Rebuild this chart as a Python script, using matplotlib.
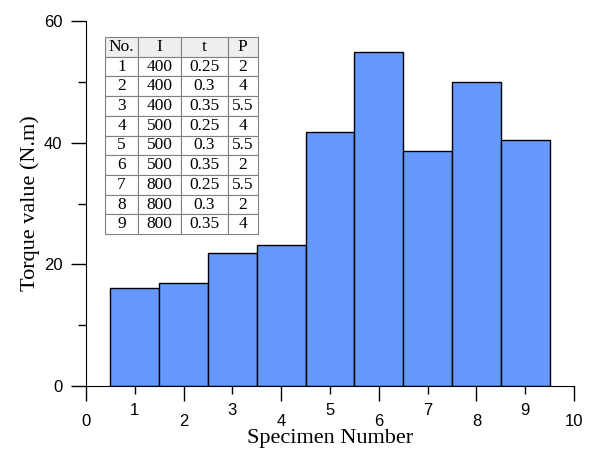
import matplotlib
matplotlib.use('Agg')
import matplotlib.pyplot as plt
from matplotlib.ticker import MultipleLocator

# bar heights
specimens = [1, 2, 3, 4, 5, 6, 7, 8, 9]
torque = [16.1, 17.0, 21.9, 23.1, 41.8, 54.9, 38.7, 49.9, 40.5]

# parameter table shown in the inset
col_labels = ['No.', 'I', 't', 'P']
col_I = ['400', '400', '400', '500', '500', '500', '800', '800', '800']
col_t = ['0.25', '0.3', '0.35', '0.25', '0.3', '0.35', '0.25', '0.3', '0.35']
col_P = ['2', '4', '5.5', '4', '5.5', '2', '5.5', '2', '4']

serif = 'Liberation Serif'
sans = 'Liberation Sans'

fig = plt.figure(figsize=(5.94, 4.53), dpi=100)
ax = fig.add_axes([0.1448, 0.1479, 0.8215, 0.8057])

ax.bar(specimens, torque, width=1.0, color='#6699ff', edgecolor='black', linewidth=1.0)

ax.set_xlim(0, 10)
ax.set_ylim(0, 60)
ax.spines['top'].set_visible(False)
ax.spines['right'].set_visible(False)

# x: even numbers major, odd numbers minor (both labelled)
ax.xaxis.set_major_locator(MultipleLocator(2))
ax.xaxis.set_minor_locator(MultipleLocator(1))
ax.xaxis.set_minor_formatter(lambda v, p: '' if int(round(v)) % 2 == 0 else str(int(round(v))))
ax.tick_params(axis='x', which='major', length=11, width=1, pad=9, labelsize=12)
ax.tick_params(axis='x', which='minor', length=6, width=1, pad=6.5, labelsize=12)

ax.yaxis.set_major_locator(MultipleLocator(20))
ax.yaxis.set_minor_locator(MultipleLocator(10))
ax.tick_params(axis='y', which='major', length=11, width=1, pad=6, labelsize=12)
ax.tick_params(axis='y', which='minor', length=6, width=1)

for lab in ax.get_xticklabels(which='both') + ax.get_yticklabels():
    lab.set_fontfamily(sans)

ax.set_xlabel('Specimen Number', fontsize=16, fontfamily=serif, labelpad=0)
ax.set_ylabel('Torque value (N.m)', fontsize=16, fontfamily=serif, labelpad=3)

rows = [[str(n), i, t, p] for n, i, t, p in zip(specimens, col_I, col_t, col_P)]
tbl = ax.table(cellText=rows, colLabels=col_labels, cellLoc='center',
               colWidths=[33, 43, 47, 30], bbox=[0.039, 0.416, 0.313, 0.540])
tbl.auto_set_font_size(False)
tbl.set_fontsize(12.5)
for (r, c), cell in tbl.get_celld().items():
    cell.set_edgecolor('#808080')
    cell.set_linewidth(0.8)
    cell.get_text().set_fontfamily(serif)
    if r == 0:
        cell.set_facecolor('#efefef')

fig.savefig('out.png', dpi=100)
